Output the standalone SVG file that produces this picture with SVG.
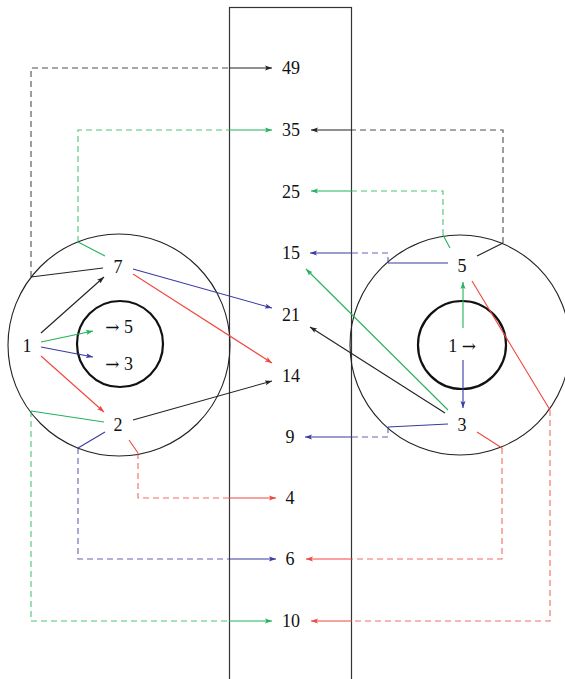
<svg xmlns="http://www.w3.org/2000/svg" width="565" height="679" viewBox="0 0 565 679">
<style>
text{font-family:"Liberation Serif","DejaVu Serif",serif;font-size:18px;fill:#111;text-anchor:middle}
.ar{font-family:"DejaVu Serif","Liberation Serif",serif;font-size:17px}
.c{fill:none;stroke:#222;stroke-width:1.1}
.ci{fill:none;stroke:#111;stroke-width:2.2}
.k{stroke:#222}.g{stroke:#22b35b}.b{stroke:#3a3aa0}.r{stroke:#f0463c}
path{fill:none;stroke-width:1.1}
.d{stroke-dasharray:6 4;stroke-opacity:0.8}
</style>
<defs>
<marker id="ak" markerUnits="userSpaceOnUse" markerWidth="8" markerHeight="6" refX="7" refY="3" orient="auto"><path d="M0,0.5 L7,3 L0,5.5 L1.5,3z" style="fill:#222;stroke:none"/></marker>
<marker id="ag" markerUnits="userSpaceOnUse" markerWidth="8" markerHeight="6" refX="7" refY="3" orient="auto"><path d="M0,0.5 L7,3 L0,5.5 L1.5,3z" style="fill:#22b35b;stroke:none"/></marker>
<marker id="ab" markerUnits="userSpaceOnUse" markerWidth="8" markerHeight="6" refX="7" refY="3" orient="auto"><path d="M0,0.5 L7,3 L0,5.5 L1.5,3z" style="fill:#3a3aa0;stroke:none"/></marker>
<marker id="ar" markerUnits="userSpaceOnUse" markerWidth="8" markerHeight="6" refX="7" refY="3" orient="auto"><path d="M0,0.5 L7,3 L0,5.5 L1.5,3z" style="fill:#f0463c;stroke:none"/></marker>
</defs>
<rect x="229.5" y="7.5" width="122" height="680" fill="none" stroke="#333" stroke-width="1.2"/>
<g id="left-region">
<circle class="c" cx="119" cy="345" r="111"/>
<circle class="ci" cx="120" cy="344" r="43"/>
</g>
<g id="right-region">
<circle class="c" cx="460" cy="345" r="110"/>
<circle class="ci" cx="462" cy="345" r="44"/>
</g>
<g id="connectors">
<path class="k" d="M103,268 L31,277"/><path class="k d" d="M31,277 V68 H229"/><path class="k" d="M229,68 H272" marker-end="url(#ak)"/>
<path class="g" d="M105,256 L78,242"/><path class="g d" d="M78,242 V130 H229"/><path class="g" d="M229,130 H272" marker-end="url(#ag)"/>
<path class="k" d="M41,333 L104,277" marker-end="url(#ak)"/>
<path class="g" d="M41,342 L93,331" marker-end="url(#ag)"/>
<path class="b" d="M41,347 L93,357" marker-end="url(#ab)"/>
<path class="r" d="M41,356 L104,412" marker-end="url(#ar)"/>
<path class="b" d="M133,269 L272,308" marker-end="url(#ab)"/>
<path class="r" d="M133,274 L272,363" marker-end="url(#ar)"/>
<path class="k" d="M133,420 L272,381" marker-end="url(#ak)"/>
<path class="g" d="M104,422 L31,411"/><path class="g d" d="M31,411 V621 H229"/><path class="g" d="M229,621 H272" marker-end="url(#ag)"/>
<path class="b" d="M105,432 L78,448"/><path class="b d" d="M78,448 V559 H229"/><path class="b" d="M229,559 H276" marker-end="url(#ab)"/>
<path class="r" d="M129,440 L138,453"/><path class="r d" d="M138,453 V498 H229"/><path class="r" d="M229,498 H276" marker-end="url(#ar)"/>
<path class="g" d="M450,248 L443,235"/><path class="g d" d="M443,235 V191 H352"/><path class="g" d="M352,191 H311" marker-end="url(#ag)"/>
<path class="k" d="M477,256 L503,243"/><path class="k d" d="M503,243 V130 H352"/><path class="k" d="M352,130 H311" marker-end="url(#ak)"/>
<path class="b" d="M448,263 H388"/><path class="b d" d="M388,263 V253 H352"/><path class="b" d="M352,253 H310" marker-end="url(#ab)"/>
<path class="r" d="M472,281 L550,410"/><path class="r d" d="M550,410 V621 H352"/><path class="r" d="M352,621 H311" marker-end="url(#ar)"/>
<path class="g" d="M463,328 V282" marker-end="url(#ag)"/>
<path class="b" d="M463,360 V408" marker-end="url(#ab)"/>
<path class="g" d="M448,410 L306,269" marker-end="url(#ag)"/>
<path class="k" d="M445,413 L310,327" marker-end="url(#ak)"/>
<path class="b" d="M448,424 L388,427"/><path class="b d" d="M388,427 V437 H352"/><path class="b" d="M352,437 H305" marker-end="url(#ab)"/>
<path class="r" d="M477,432 L502,448"/><path class="r d" d="M502,448 V559 H352"/><path class="r" d="M352,559 H306" marker-end="url(#ar)"/>
</g>
<g id="n-l1"><text x="27" y="352">1</text></g>
<g id="n-l7"><text x="118" y="273">7</text></g>
<g id="n-l2"><text x="118" y="431">2</text></g>
<g id="n-l5"><text x="119" y="333"><tspan class="ar">→</tspan> 5</text></g>
<g id="n-l3"><text x="119" y="370"><tspan class="ar">→</tspan> 3</text></g>
<g id="n-r5"><text x="462" y="272">5</text></g>
<g id="n-r3"><text x="462" y="431">3</text></g>
<g id="n-r1"><text x="462" y="352">1 <tspan class="ar">→</tspan></text></g>
<g id="n-49"><text x="291" y="74">49</text></g>
<g id="n-35"><text x="291" y="136">35</text></g>
<g id="n-25"><text x="291" y="198">25</text></g>
<g id="n-15"><text x="291" y="259">15</text></g>
<g id="n-21"><text x="291" y="321">21</text></g>
<g id="n-14"><text x="291" y="382">14</text></g>
<g id="n-9"><text x="290" y="443">9</text></g>
<g id="n-4"><text x="290" y="504">4</text></g>
<g id="n-6"><text x="290" y="565">6</text></g>
<g id="n-10"><text x="291" y="627">10</text></g>
</svg>
